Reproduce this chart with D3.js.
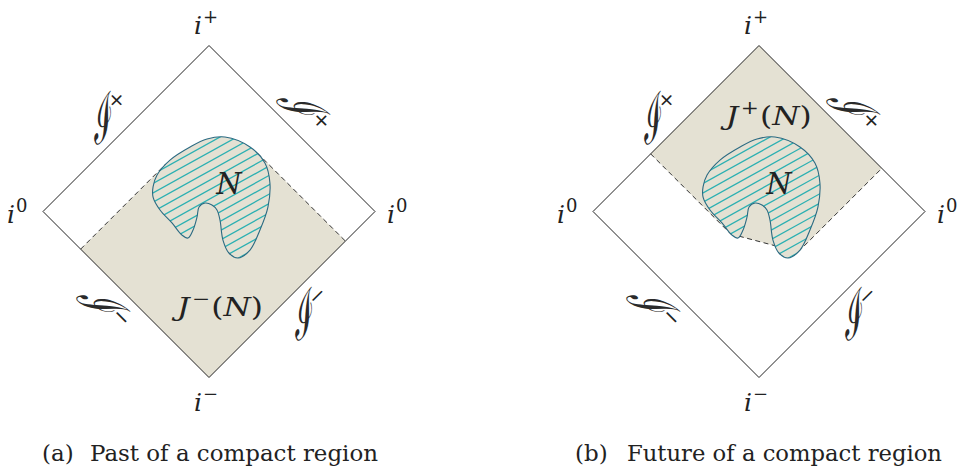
<!DOCTYPE html>
<html>
<head>
<meta charset="utf-8">
<script src="https://cdn.jsdelivr.net/npm/d3@7"></script>
<style>
  body { margin: 0; background: #fff; }
  svg { display: block; }
</style>
</head>
<body>
<div id="chart"></div>
<script>
// compact region N, in diagram units (the diamond runs from -1 to 1)
const blobU = [0.096, 0.247, 0.337, 0.367, 0.355, 0.307, 0.247, 0.175, 0.120, 0.084, 0.066, 0.048,
               0.018, -0.024, -0.060, -0.072, -0.096, -0.127, -0.163, -0.223, -0.295, -0.337,
               -0.337, -0.313, -0.235, -0.114, -0.012];
const blobV = [0.449, 0.389, 0.292, 0.172, 0.027, -0.111, -0.232, -0.280, -0.250, -0.172, -0.051, 0.009,
               0.039, 0.051, 0.027, -0.033, -0.111, -0.160, -0.142, -0.069, 0.009, 0.087,
               0.148, 0.220, 0.310, 0.389, 0.437];

// corners of the diagram: top, left, right, bottom
const cornerU = [0, -1, 1, 0];
const cornerV = [1, 0, 0, -1];
const cornerMarks = ["+", "0", "0", "\u2212"];

// null infinity labels: upper left, upper right, lower left, lower right
const scriMarks = ["+", "+", "\u2212", "\u2212"];

const regionSigns = ["\u2212", "+"];
const captionTags = ["(a)", "(b)"];
const captionTexts = ["Past of a compact region", "Future of a compact region"];

var width = 957, height = 470;
var beige = "#e4e1d3";
var mathFont = "'DejaVu Serif', serif";

var svg = d3.select("#chart").append("svg")
    .attr("width", width)
    .attr("height", height);

var defs = svg.append("defs");

function drawPanel(k, cx) {
    var x = d3.scaleLinear().domain([-1, 1]).range([cx - 166, cx + 166]);
    var y = d3.scaleLinear().domain([-1, 1]).range([377.5, 45.5]);
    var g = svg.append("g");

    var blobLine = d3.line()
        .x(function (i) { return x(blobU[i]); })
        .y(function (i) { return y(blobV[i]); })
        .curve(d3.curveCatmullRomClosed.alpha(0.5));
    var idx = d3.range(blobU.length);

    // sample the outline so the null lines can touch it
    var tmp = g.append("path").attr("d", blobLine(idx)).attr("fill", "none");
    var node = tmp.node(), len = node.getTotalLength();
    var pts = d3.range(0, len, 0.5).map(function (s) {
        var p = node.getPointAtLength(s);
        return [x.invert(p.x), y.invert(p.y)];
    });
    tmp.remove();

    var poly, dashes = [];
    if (k == 0) {
        // past: null lines going down from the upper tangents
        var pL = d3.greatest(pts, function (p) { return p[1] - p[0]; });
        var pR = d3.greatest(pts, function (p) { return p[1] + p[0]; });
        var a = pL[1] - pL[0], b = pR[1] + pR[0];
        var eL = [-(1 + a) / 2, (a - 1) / 2];
        var eR = [(1 + b) / 2, (b - 1) / 2];
        poly = [[0, -1], eL, pL, pR, eR];
        dashes = [[eL, pL], [pR, eR]];
    } else {
        // future: null lines going up from the lower tangents
        var pA = d3.least(pts, function (p) { return p[1] + p[0]; });
        var pB = d3.least(pts, function (p) { return p[1] - p[0]; });
        var a = pA[1] + pA[0], b = pB[1] - pB[0];
        var eL = [(a - 1) / 2, (a + 1) / 2];
        var eR = [(1 - b) / 2, (1 + b) / 2];
        poly = [[0, 1], eL, pA, pB, eR];
        dashes = [[eL, pA], [pA, pB], [pB, eR]];
    }

    g.append("path")
        .attr("d", d3.line().x(function (p) { return x(p[0]); }).y(function (p) { return y(p[1]); })(poly) + "Z")
        .attr("fill", beige);

    dashes.forEach(function (d) {
        g.append("line")
            .attr("x1", x(d[0][0])).attr("y1", y(d[0][1]))
            .attr("x2", x(d[1][0])).attr("y2", y(d[1][1]))
            .attr("stroke", "#333")
            .attr("stroke-width", 1)
            .attr("stroke-dasharray", "5,3.5");
    });

    // the diamond
    var order = [0, 2, 3, 1];
    g.append("path")
        .attr("d", d3.line().x(function (i) { return x(cornerU[i]); }).y(function (i) { return y(cornerV[i]); })(order) + "Z")
        .attr("fill", "none")
        .attr("stroke", "#222")
        .attr("stroke-width", 1);

    // N with its hatching
    var clipId = "blobclip" + k;
    defs.append("clipPath").attr("id", clipId)
        .append("path").attr("d", blobLine(idx));

    g.append("path").attr("d", blobLine(idx)).attr("fill", beige);

    var ang = 29 * Math.PI / 180;
    var dx = Math.cos(ang), dy = -Math.sin(ang);
    var mx = x(0.01), my = y(0.08);
    var hatch = g.append("g").attr("clip-path", "url(#" + clipId + ")");
    d3.range(-90, 91, 8.2).forEach(function (t) {
        var ox = mx + t * (-dy), oy = my + t * dx;
        hatch.append("line")
            .attr("x1", ox - 120 * dx).attr("y1", oy - 120 * dy)
            .attr("x2", ox + 120 * dx).attr("y2", oy + 120 * dy)
            .attr("stroke", "#2bb0b2")
            .attr("stroke-width", 1.3);
    });

    g.append("path").attr("d", blobLine(idx))
        .attr("fill", "none")
        .attr("stroke", "#2b6a82")
        .attr("stroke-width", 1.1);

    // corner labels
    var offs = [[-15, -12], [-36, 11], [12, 11], [-15, 33.5]];
    cornerMarks.forEach(function (m, i) {
        var t = g.append("text")
            .attr("x", x(cornerU[i]) + offs[i][0])
            .attr("y", y(cornerV[i]) + offs[i][1])
            .attr("font-family", mathFont)
            .attr("font-size", 25)
            .attr("fill", "#222");
        t.append("tspan").attr("font-style", "italic").text("i");
        t.append("tspan").attr("font-size", 18).attr("dy", -11).attr("dx", 1).text(m);
    });

    // scri labels along the edges
    var scriPos = [[-0.64, 0.55, -45], [0.555, 0.63, 45], [-0.65, -0.555, 45], [0.57, -0.63, -45]];
    scriMarks.forEach(function (m, i) {
        var p = scriPos[i];
        var sg = g.append("g")
            .attr("transform", "translate(" + x(p[0]) + "," + y(p[1]) + ") rotate(" + p[2] + ")");
        sg.append("text")
            .attr("transform", "skewX(-32)")
            .attr("text-anchor", "middle")
            .attr("dominant-baseline", "central")
            .attr("font-family", mathFont)
            .attr("font-size", 41)
            .attr("fill", "#2a2a2a")
            .text("\u2110");
        sg.append("text")
            .attr("x", 24).attr("y", -5)
            .attr("text-anchor", "middle")
            .attr("dominant-baseline", "central")
            .attr("font-family", mathFont)
            .attr("font-size", 21)
            .attr("fill", "#222")
            .text(m);
    });

    // N
    g.append("text")
        .attr("x", x(0.12)).attr("y", y(0.105))
        .attr("text-anchor", "middle")
        .attr("font-family", mathFont)
        .attr("font-style", "italic")
        .attr("font-size", 29)
        .attr("fill", "#222")
        .text("N");

    // J^-(N) / J^+(N)
    var rv = k == 0 ? -0.63 : 0.52;
    var rt = g.append("text")
        .attr("x", x(k == 0 ? -0.193 : -0.2)).attr("y", y(rv))
        .attr("textLength", 86).attr("lengthAdjust", "spacingAndGlyphs")
        .attr("font-family", mathFont)
        .attr("font-size", 26)
        .attr("fill", "#222");
    rt.append("tspan").attr("font-style", "italic").text("J");
    rt.append("tspan").attr("font-size", 18).attr("dy", -11).attr("dx", 2).text(regionSigns[k]);
    rt.append("tspan").attr("dy", 11).attr("dx", 1).text("(");
    rt.append("tspan").attr("font-style", "italic").text("N");
    rt.append("tspan").text(")");

    // caption
    var cap = svg.append("g").attr("font-family", mathFont)
        .attr("font-size", 23).attr("fill", "#222");
    cap.append("text").attr("x", k == 0 ? 42 : 575).attr("y", 461)
        .text(captionTags[k]);
    cap.append("text").attr("x", k == 0 ? 90 : 627).attr("y", 461)
        .attr("textLength", k == 0 ? 288 : 315).attr("lengthAdjust", "spacingAndGlyphs")
        .text(captionTexts[k]);
}

drawPanel(0, 209);
drawPanel(1, 759);
</script>
</body>
</html>
